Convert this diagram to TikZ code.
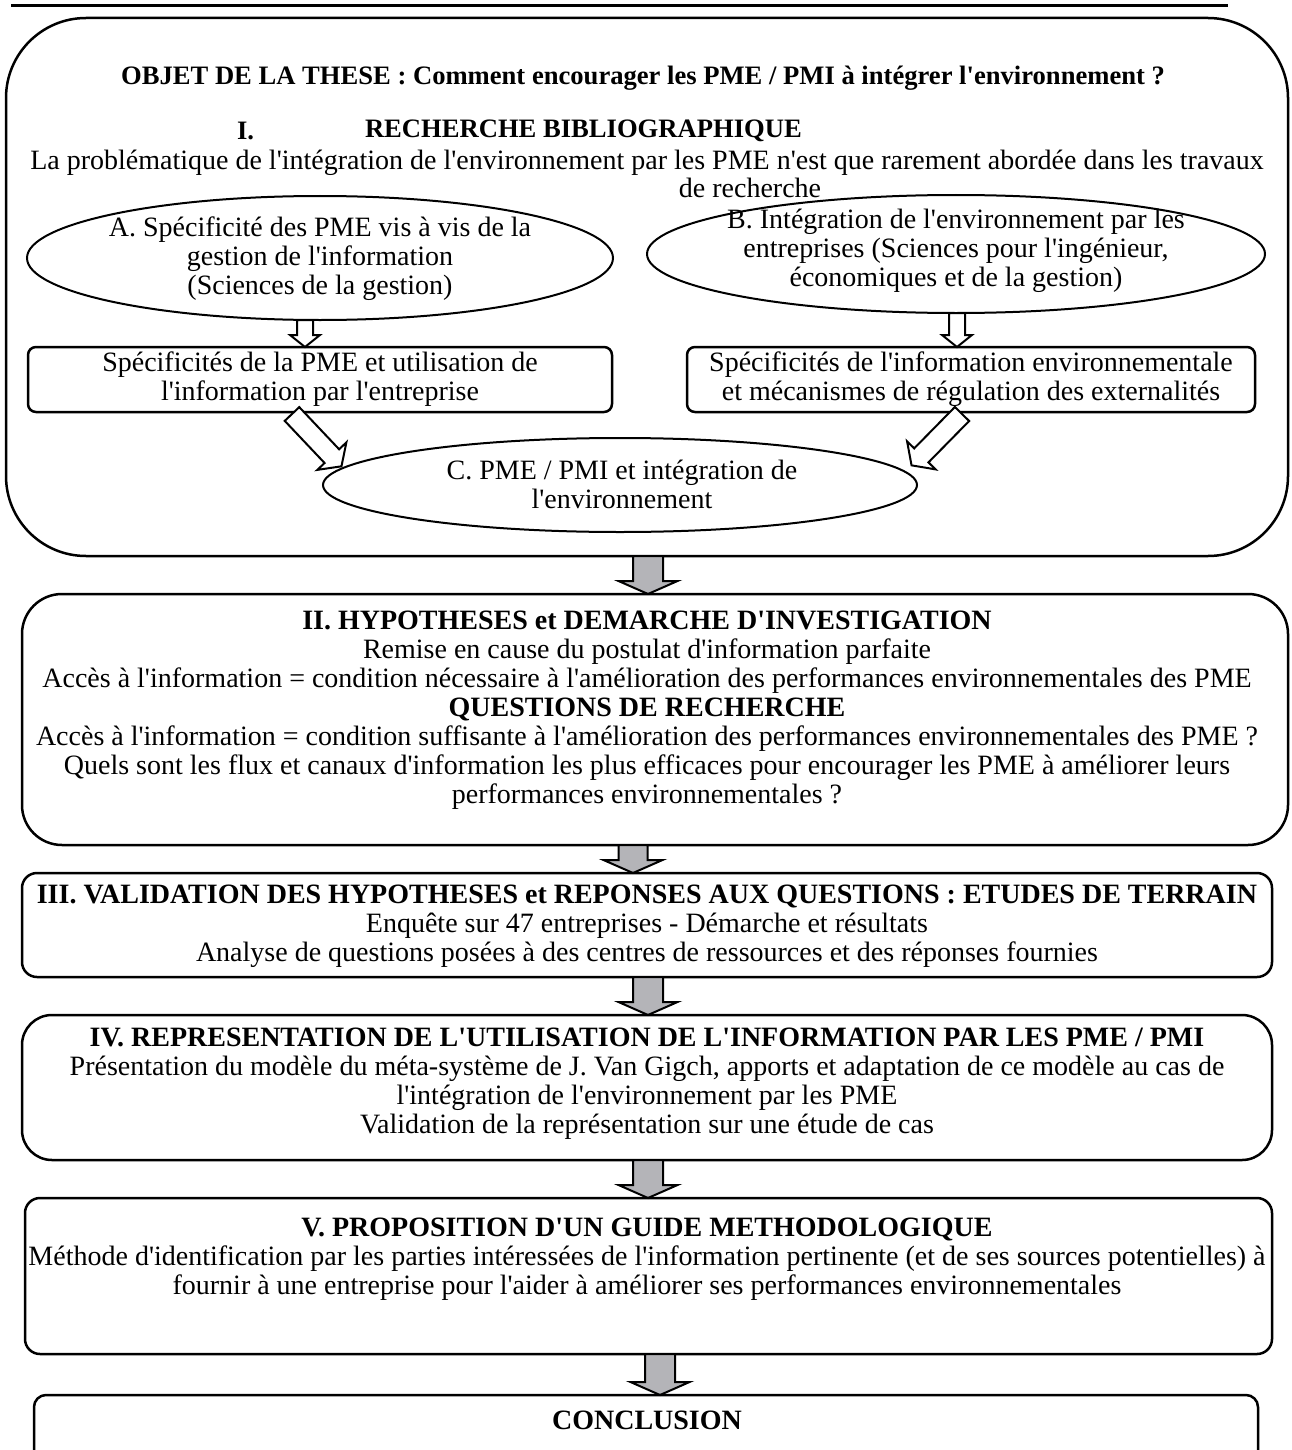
\documentclass[tikz,border=0pt]{standalone}
\usepackage{fontspec}
\setmainfont{Liberation Serif}
\usetikzlibrary{shapes.geometric}
\newcommand\ap{\textquotesingle}
\definecolor{arrowgray}{RGB}{180,180,184}
\begin{document}
\begin{tikzpicture}[x=1pt,y=-1pt,
  every node/.style={inner sep=0pt, outer sep=0pt},
  tx/.style={font=\fontsize{28}{29}\selectfont, align=center},
  bx/.style={font=\fontsize{28}{29}\selectfont\bfseries, align=center},
  hx/.style={font=\fontsize{26.6}{29}\selectfont\bfseries, align=center},
  box/.style={draw, line width=2.5pt, rectangle},
  ell/.style={draw, line width=2pt, ellipse},
  hollow/.style={draw, line width=2pt, fill=white, line join=miter},
  grayarr/.style={draw, line width=2pt, fill=arrowgray, line join=miter},
  pics/barrow/.style n args={4}{code={%
    \path[pic actions] (0,-#2) -- ({#1-#4},-#2) -- ({#1-#4},-#3) -- (#1,0)
      -- ({#1-#4},#3) -- ({#1-#4},#2) -- (0,#2) -- cycle;}}
]
\useasboundingbox (0,0) rectangle (1292,1450);
\clip (0,0) rectangle (1292,1450);

% top rule
\draw[line width=3pt] (11,6) -- (1228,6);

% ---------- box I ----------
\node[box, rounded corners=80pt, minimum width=1282pt, minimum height=538pt] (b1) at (647,287) {};
\node[hx] (title) at (643,78) {OBJET DE LA THESE : Comment encourager les PME / PMI à intégrer l\ap environnement ?};
\node[hx, anchor=west] (inum) at (237,131) {I.};
\node[hx, anchor=west] (ititle) at (365,131) {RECHERCHE BIBLIOGRAPHIQUE};
\node[tx] (iline1) at (647,163) {La problématique de l\ap intégration de l\ap environnement par les PME n\ap est que rarement abordée dans les travaux};
\node[tx] (iline2) at (750,188) {de recherche};

\node[ell, minimum width=586pt, minimum height=124pt] (ea) at (320,258) {};
\node[tx] (eatext) at (320,259) {A. Spécificité des PME vis à vis de la\\gestion de l\ap information\\(Sciences de la gestion)};
\node[ell, minimum width=618pt, minimum height=118pt] (eb) at (956,254) {};
\node[tx] (ebtext) at (956,251) {B. Intégration de l\ap environnement par les\\entreprises (Sciences pour l\ap ingénieur,\\économiques et de la gestion)};

\pic[hollow, rotate=-90] at (305,320) {barrow={27}{8}{15}{12}};
\pic[hollow, rotate=-90] at (957,313) {barrow={34}{8}{15}{12}};

\node[box, rounded corners=8pt, minimum width=584pt, minimum height=65pt] (a2) at (320,379.5) {};
\node[tx] (a2text) at (320,379) {Spécificités de la PME et utilisation de\\l\ap information par l\ap entreprise};
\node[box, rounded corners=8pt, minimum width=568pt, minimum height=65pt] (b2s) at (971,379.5) {};
\node[tx] (b2text) at (971,379) {Spécificités de l\ap information environnementale\\et mécanismes de régulation des externalités};

\pic[hollow] at (292,414) [rotate=-46.6] {barrow={72}{10}{20}{14}};
\pic[hollow] at (962,414) [rotate=-134.5] {barrow={72}{10}{20}{14}};

\node[ell, minimum width=594pt, minimum height=94pt] (ec) at (620,485) {};
\node[tx] (ectext) at (622,484) {C. PME / PMI et intégration de\\l\ap environnement};

% ---------- arrow I -> II ----------
\pic[grayarr, rotate=-90] at (648,556) {barrow={38}{15}{29.5}{13}};

% ---------- box II ----------
\node[box, rounded corners=40pt, minimum width=1266pt, minimum height=251pt] (b2) at (655,719.5) {};
\node[tx] (b2txt) at (647,710) {{\bfseries II. HYPOTHESES et DEMARCHE D\ap INVESTIGATION}\\
Remise en cause du postulat d\ap information parfaite\\
Accès à l\ap information = condition nécessaire à l\ap amélioration des performances environnementales des PME\\
{\bfseries QUESTIONS DE RECHERCHE}\\
Accès à l\ap information = condition suffisante à l\ap amélioration des performances environnementales des PME ?\\
Quels sont les flux et canaux d\ap information les plus efficaces pour encourager les PME à améliorer leurs\\
performances environnementales ?};

\pic[grayarr, rotate=-90] at (633,845) {barrow={28}{14.5}{29.5}{13}};

% ---------- box III ----------
\node[box, rounded corners=15pt, minimum width=1250pt, minimum height=104pt] (b3) at (647,925) {};
\node[tx] (b3txt) at (647,926) {{\bfseries III. VALIDATION DES HYPOTHESES et REPONSES AUX QUESTIONS : ETUDES DE TERRAIN}\\
Enquête sur 47 entreprises - Démarche et résultats\\
Analyse de questions posées à des centres de ressources et des réponses fournies};

\pic[grayarr, rotate=-90] at (648,977) {barrow={38}{15}{29.5}{13}};

% ---------- box IV ----------
\node[box, rounded corners=30pt, minimum width=1250pt, minimum height=145pt] (b4) at (647,1087.5) {};
\node[tx] (b4txt) at (647,1083.5) {{\bfseries IV. REPRESENTATION DE L\ap UTILISATION DE L\ap INFORMATION PAR LES PME / PMI}\\
Présentation du modèle du méta-système de J. Van Gigch, apports et adaptation de ce modèle au cas de\\
l\ap intégration de l\ap environnement par les PME\\
Validation de la représentation sur une étude de cas};

\pic[grayarr, rotate=-90] at (648,1160) {barrow={38}{15}{29.5}{13}};

% ---------- box V ----------
\node[box, rounded corners=15pt, minimum width=1247pt, minimum height=156pt] (b5) at (648.5,1276) {};
\node[tx] (b5txt) at (647,1259) {{\bfseries V. PROPOSITION D\ap UN GUIDE METHODOLOGIQUE}\\
Méthode d\ap identification par les parties intéressées de l\ap information pertinente (et de ses sources potentielles) à\\
fournir à une entreprise pour l\ap aider à améliorer ses performances environnementales};

\pic[grayarr, rotate=-90] at (660,1354) {barrow={41}{15}{29.5}{13}};

% ---------- conclusion ----------
\node[box, rounded corners=12pt, minimum width=1224pt, minimum height=80pt] (bc) at (646,1435) {};
\node[bx] (bctxt) at (647,1420) {CONCLUSION};
\end{tikzpicture}
\end{document}
